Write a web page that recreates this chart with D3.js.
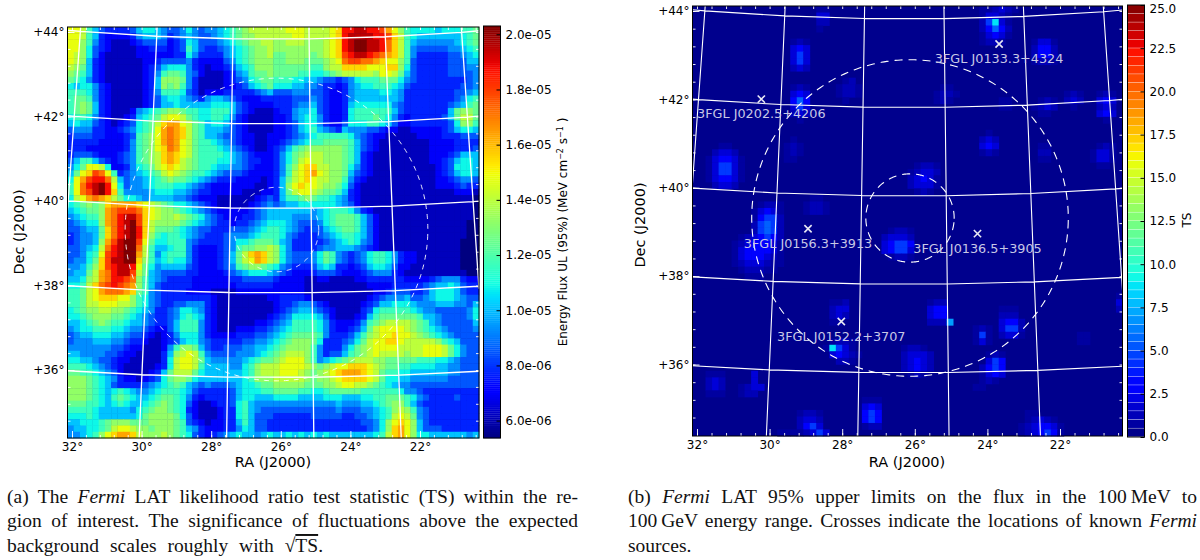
<!doctype html>
<html>
<head>
<meta charset="utf-8">
<title>Fermi LAT maps</title>
<script src="https://d3js.org/d3.v7.min.js"></script>
<style>
  html, body { margin: 0; background: #fff; }
  svg { display: block; font-family: "DejaVu Sans"; }
  .cap { font-family: "Liberation Serif"; font-size: 19.5px; fill: #111; }
</style>
</head>
<body>
<svg id="fig" width="1200" height="560"></svg>
<script>
// flux map, one character per pixel, levels index into fluxLevelKeys (rows top to bottom)
var fluxLevelKeys = "0123456789abcdefghij";
var fluxRows = [
"ccb86433334 67765445754 556789abbbb bbcccbbbbcd hhiihhgeca8 77776777889",
"ccb86322223 56665345654 456789aabbb bbbccbbbbcd hiiiihhgdb8 76666666789",
"cca85321112 34444234764 4456789aabb aabbbaaabcd hijjiihfdb8 65555556789",
"cca74321111 22333234864 33456789aab aaaaaaaabcd hijjiihfdb8 54444455678",
"cba74211111 22222233753 33356789aab 99aaaa9abcd ghiihgfedb8 53333344567",
"cba63211111 12234444532 22245789aaa 99aaa999abc fggffedcca8 43333344466",
"ba963211111 12346777532 12234678aaa 99999988abb ddddcccdda7 43333344455",
"a9863211111 12358998542 11123568 99a 9999887789a bbbbbaccb96 43333344445",
"98753211111 1236aaa9531 11123457899 88877665443 45788899975 43333333345",
"76775321111 1236a9a8531 11122346789 77766554332 35677888764 33333333445",
"88875321111 12358887431 22233333456 44455544322 35666677653 33333334456",
"89985321111 12346776543 56654322233 33344454322 35666666653 33333334578",
"89a96321111 12346676666 67776432222 33345564322 36777777543 33333345689",
"89a96321112 56789aa9887 78886432111 23356674322 37888888643 33333369aa9",
"78875321123 6789bccb987 78875321111 22356775322 37888987532 33333469bb9",
"67664321234 789bdeecb98 67764321111 22346775322 47778876422 33333347aa8",
"45553322345 789cefedb98 66654321111 22346786543 65554432211 22222346776",
"34443322234 89acefedb98 66544322112 22345678888 87543221111 12222333444",
"33333222235 89acefecb98 87654322112 23456788999 98643211111 11122223333",
"33322222235 89acdfecb98 88765432112 34689aaaaaa 98643211111 11122223334",
"34443222345 89abdedcb98 88876543222 3579abbbaaa 98632111111 11122234666",
"46886432345 89abdedba98 88776543322 3579bcbbaaa 98632111111 11122346776",
"579ccb72235 789bcdcba98 87665543222 358acddbbaa 97532111111 11112347776",
"69cdgfc8345 6789bcba988 76544432222 358bcdecbaa 96432111111 11112346776",
"7ceghhfb645 56789a99876 54333222212 369bcdcbbaa 85321111111 11112234554",
"8cfhijhc745 56788877654 32222222112 36acdccbaa9 74211111111 11112223433",
"8cfgijhd855 55677766543 32222211122 369bccba998 63211111111 11111112221",
"7bcefedb977 65666655432 22111111234 36889a98876 53211111111 11111111110",
"789a9adeeee dcba9877654 32111112345 45667777776 54211111111 11111111110",
"67899aefggg fdcbaa98765 43222223456 66666656788 87532111111 11111111110",
"56788aefhii gdcbaaba987 54322233456 66655556789 99864211111 11111111110",
"45677aefhij gdbaaaa9876 54332334567 77654445789 99864211111 11111111100",
"445669dfhij hdb99987654 43334445678 87654344678 99864211111 11111111100",
"345569dfhij hda87887654 33345556788 87543334567 88764211111 11111111100",
"34556aegijj gc977888543 33345778999 86533333456 78754211111 11111111000",
"44567bfhijj fb866788532 22345899aab a7533334556 66543211111 11111111000",
"44578cghijj eb857888532 223469bdedb a7544457985 43457887532 21111111000",
"45579dgiijj da867877532 223469bcedb a7544457985 43457887532 21111111000",
"5568adghiih c9756666432 2234589aa98 75433346763 32346776422 11111111000",
"5669befhiig b9654444332 22234567776 54322234443 22234555321 11111111100",
"667abefhhgf a8654333322 22223344444 32222112211 11223333332 22234555322",
"778bdfghgfe a8643333322 22222333333 22222111111 11112222333 33456676433",
"889bcefffed 98543333222 21111222222 22222111111 11111223444 33467776433",
"889bcdddcca 87543333333 32111111112 23333211111 11112345556 44567776544",
"889bbcccbba 87543344555 32111111111 23345543211 11123466777 65556665546",
"789aabbaa98 76533457765 32111111111 23456654321 11134788888 76554444457",
"7789aaa9987 65433457876 32111111112 34577776421 11236899999 98665444457",
"66789a98876 65433468885 32111111223 45688887532 223589abbbb a9865444446",
"56778887765 54322468885 32111222334 56788887532 23469bccccb a9876544445",
"45667776654 43212357775 32222333445 67899998533 3468abccdcc ba987654444",
"45556665543 32112346775 43333344556 789aaa97333 4579bccddcb bbbba876444",
"55555554432 2111258aa96 43344455667 89aaaa85333 579abccccbb bbcccb97544",
"66555544322 111136abcb8 54444555678 9abbba85344 689abcbbbba bbcccb97544",
"77665443221 111137bccb9 65555567899 abccca85678 9abbbaa9999 98887765444",
"88876543211 111237bccb8 66665578abb bccccba9abc cdddcba9988 77776655444",
"99887654211 112369bbb97 66666678abb bcccba9abcd eeedcb98877 66666655444",
"aaa98765322 123479aa976 66666678aaa bbbbba9aabc ddddcb97766 55555544444",
"aaa98764333 34567898654 54445677899 aaaaa999aab ccbba987655 44444444444",
"aaa98767876 55678887643 33334677788 99998877899 99988888875 54333333333",
"aaa98768987 66789987532 33334677666 77776666777 66677889998 75433334333",
"99988767876 6789a987421 12334786555 55555555556 55566789aa8 64333333333",
"88887666665 789aa987321 11233786544 44444444445 44455678aba 85433333333",
"77787666666 79aaaa97421 11233786444 33333344444 33445678bcb 95433333333",
"6677789aaa9 99aaaa98432 12233686443 33333333333 3334457acdc a6433333333",
"5667789bccb aa9aaa98653 22233576443 33333333333 3333457adec a6444333333",
"55678acdeed baaaba98743 23456766567 66767676766 6666678bdec a7766666656"
];

// TS map is nearly empty: [row, first column, level per pixel], levels index into tsLevels
var tsBackground = 0.3;
var tsLevels = [0.3, 0.7, 1.2, 1.9, 2.8, 4.5, 5.5, 6, 7, 8.7];
var tsPatches = [
[21,4,"11"],[22,3,"2332"],[23,2,"134431"],[24,2,"135531"],[25,2,"135531"],[26,2,"134431"],[27,3,"2332"],
[30,10,"1221"],[31,9,"13431"],[32,9,"14552"],[33,9,"25652"],[34,9,"25652"],[35,7,"1234542"],[36,6,"12344431"],[37,6,"13444431"],[38,6,"13444321"],[39,6,"12333211"],[40,7,"122211"],[41,8,"111"],
[5,15,"121"],[6,15,"343"],[7,15,"353"],[8,15,"353"],[9,15,"232"],
[12,15,"121"],[13,15,"343"],[14,15,"464"],[15,15,"353"],[16,15,"232"],[17,16,"1"],
[0,19,"11"],[1,19,"33"],[2,19,"22"],[3,19,"1"],
[11,23,"12"],[12,22,"1221"],[13,22,"1221"],[14,23,"1"],
[20,15,"1"],[21,14,"121"],[22,14,"121"],[23,14,"11"],
[29,18,"11"],[30,17,"1221"],[31,17,"1221"],
[34,30,"1221"],[35,29,"23332"],[36,29,"34554"],[37,29,"34553"],[38,30,"1221"],
[45,21,"112"],[46,21,"233"],[47,21,"232"],[48,21,"11"],
[51,21,"1221"],[52,20,"19531"],[53,21,"34321"],[54,22,"221"],
[52,32,"1221"],[53,32,"23332"],[54,32,"23432"],[55,32,"23432"],[56,33,"121"],
[56,2,"111"],[57,2,"232"],[58,2,"232"],[59,2,"111"],
[56,9,"3"],[57,9,"3"],[58,7,"1233"],[59,7,"122"],
[62,16,"1221"],[63,16,"2332"],[64,16,"2453"],[65,13,"11112353"],
[60,26,"111"],[61,26,"343"],[62,26,"454"],[63,26,"454"],[64,26,"122"],
[0,44,"112321"],[1,44,"13321"],[2,44,"25931"],[3,44,"24642"],[4,44,"13431"],[5,44,"1221"],
[5,52,"1331"],[6,52,"2442"],[7,52,"2442"],[8,52,"1221"],
[12,38,"11"],[13,37,"1221"],[14,37,"121"],
[14,53,"121"],[15,52,"1232"],[16,53,"11"],
[13,57,"121"],[14,57,"232"],[15,58,"1"],
[13,62,"121"],[14,62,"343"],[15,62,"232"],[16,62,"343"],[17,63,"1"],
[19,45,"1"],[20,44,"232"],[21,44,"343"],[22,44,"121"],
[21,53,"11"],[22,53,"22"],[23,53,"11"],
[21,62,"121"],[22,61,"1331"],[23,61,"1331"],[24,62,"11"],
[24,34,"1221"],[25,33,"12332"],[26,33,"23431"],[27,33,"23331"],[28,34,"121"],
[45,36,"122"],[46,36,"344"],[47,36,"344"],[48,36,"2228"],
[49,43,"121"],[50,43,"151"],[51,43,"131"],
[46,47,"111"],[47,47,"222"],[48,47,"3442"],[49,47,"3552"],[50,47,"2331"],
[53,45,"121"],[54,45,"354"],[55,44,"2454"],[56,44,"1343"],[57,44,"121"],[58,43,"11"],
[62,51,"11"],[63,51,"12321"],[64,50,"1234431"],[65,50,"1234541"],
[44,65,"1"],[45,65,"3"],[46,65,"2"],
[50,59,"11"],[51,59,"11"],
[14,47,"11"],[15,47,"11"]
];

var srcNames = ["3FGL J0202.5+4206", "3FGL J0133.3+4324", "3FGL J0156.3+3913", "3FGL J0136.5+3905", "3FGL J0152.2+3707"];
var srcRA = [30.6, 23.3, 29.05, 24.1, 28.02];
var srcDec = [42.1, 43.4, 39.22, 39.13, 37.14];

var raTicks = [32, 30, 28, 26, 24, 22];
var decTicks = [44, 42, 40, 38, 36];
var fluxRange = [5.37e-6, 2.03e-5];
var fluxTicks = [6e-6, 8e-6, 1e-5, 1.2e-5, 1.4e-5, 1.6e-5, 1.8e-5, 2e-5];
var tsRange = [0, 25];
var tsTicks = [0, 2.5, 5, 7.5, 10, 12.5, 15, 17.5, 20, 22.5, 25];

var roiCenter = [26.07, 39.5];
var roiRadii = [3.58, 1.0];

var svg = d3.select("#fig");

// slight softening, the maps in the paper are jpeg'd
svg.append("defs").append("filter").attr("id", "soft")
  .append("feGaussianBlur").attr("stdDeviation", 0.6);

// jet colormap
var jetR = d3.scaleLinear([0, 0.35, 0.66, 0.89, 1], [0, 0, 1, 1, 0.5]);
var jetG = d3.scaleLinear([0, 0.125, 0.375, 0.64, 0.91, 1], [0, 0, 1, 1, 0, 0]);
var jetB = d3.scaleLinear([0, 0.11, 0.34, 0.65, 1], [0.5, 1, 1, 0, 0]);
function jet(t) {
  return d3.rgb(jetR(t) * 255, jetG(t) * 255, jetB(t) * 255).formatHex();
}

function drawPanel(opt) {
  var g = svg.append("g");
  var x0 = opt.box[0], y0 = opt.box[1], x1 = opt.box[2], y1 = opt.box[3];

  var col = d3.scaleBand(d3.range(66), [x0, x1]);
  var row = d3.scaleBand(d3.range(66), [y0, y1]);
  var color = d3.scaleLinear(opt.range, [0, 1]);

  var heat = g.append("g").attr("filter", "url(#soft)");
  heat.append("rect").attr("x", x0).attr("y", y0).attr("width", x1 - x0).attr("height", y1 - y0)
    .attr("fill", jet(color(opt.base || opt.range[0])));
  heat.selectAll("rect.cell").data(opt.cells).join("rect")
    .attr("class", "cell")
    .attr("x", d => col(d.c)).attr("y", d => row(d.r))
    .attr("width", col.bandwidth() + 0.4).attr("height", row.bandwidth() + 0.4)
    .attr("fill", d => jet(color(d.v)));

  // sky grid and ROI circles
  var proj = d3.geoGnomonic().reflectX(true)
    .rotate([-roiCenter[0], -roiCenter[1]])
    .scale(opt.scale).translate(opt.center)
    .clipExtent([[x0, y0], [x1, y1]]).precision(0.3);
  var path = d3.geoPath(proj);
  var grat = d3.geoGraticule().extent([[15, 34], [37.5, 46]]).step([2.5, 2]);
  g.append("path").datum(grat()).attr("d", path)
    .attr("fill", "none").attr("stroke", "#fff").attr("stroke-width", opt.gridWidth);
  roiRadii.forEach(function(r) {
    g.append("path").datum(d3.geoCircle().center(roiCenter).radius(r).precision(1)())
      .attr("d", path).attr("fill", "none").attr("stroke", "#fff")
      .attr("stroke-width", opt.circleWidth).attr("stroke-dasharray", opt.circleDash);
  });

  // ticks
  var ra = d3.scaleLinear([32, 22], opt.raPx);
  var dec = d3.scaleLinear([44, 36], opt.decPx);
  var raMinor = d3.range(32.4, 19.9, -0.4).filter(d => ra(d) > x0 + 1 && ra(d) < x1 - 1);
  var decMinor = d3.range(34, 44.8, 0.4).filter(d => dec(d) > y0 + 1 && dec(d) < y1 - 1);

  function tickAxis(axis, tf) {
    var a = g.append("g").attr("transform", tf).call(axis);
    a.select(".domain").remove();
    a.selectAll("line").attr("stroke", "#fff").attr("stroke-width", 0.9);
    a.selectAll("text").attr("font-family", "DejaVu Sans").attr("font-size", 12).attr("fill", "#000");
    return a;
  }
  var blank = () => "";
  tickAxis(d3.axisBottom(ra).tickValues(raMinor).tickSize(-3).tickFormat(blank), "translate(0," + y1 + ")");
  tickAxis(d3.axisTop(ra).tickValues(raMinor).tickSize(-3).tickFormat(blank), "translate(0," + y0 + ")");
  tickAxis(d3.axisLeft(dec).tickValues(decMinor).tickSize(-3).tickFormat(blank), "translate(" + x0 + ",0)");
  tickAxis(d3.axisRight(dec).tickValues(decMinor).tickSize(-3).tickFormat(blank), "translate(" + x1 + ",0)");
  tickAxis(d3.axisBottom(ra).tickValues(raTicks).tickSize(-7).tickPadding(4).tickFormat(d => d + "°"), "translate(0," + y1 + ")");
  tickAxis(d3.axisLeft(dec).tickValues(decTicks).tickSize(-7).tickPadding(3).tickFormat(d => "+" + d + "°"), "translate(" + x0 + ",0)");

  g.append("rect").attr("x", x0).attr("y", y0).attr("width", x1 - x0).attr("height", y1 - y0)
    .attr("fill", "none").attr("stroke", "#000").attr("stroke-width", 1);

  g.append("text").attr("x", opt.raLabel[0]).attr("y", opt.raLabel[1]).attr("text-anchor", "middle")
    .attr("font-size", 14.5).text("RA (J2000)");
  g.append("text").attr("transform", "translate(" + opt.decLabel[0] + "," + opt.decLabel[1] + ") rotate(-90)")
    .attr("text-anchor", "middle").attr("font-size", 14.5).text("Dec (J2000)");

  // colorbar
  var cb = opt.bar;
  var barY = d3.scaleLinear(opt.range, [cb[3], cb[1]]);
  var steps = d3.range(opt.barSteps);
  var stepH = (cb[3] - cb[1]) / opt.barSteps;
  g.selectAll("rect.strip").data(steps).join("rect")
    .attr("class", "strip")
    .attr("x", cb[0]).attr("width", cb[2] - cb[0])
    .attr("y", d => cb[3] - (d + 1) * stepH)
    .attr("height", stepH + opt.barOverlap)
    .attr("fill", d => jet((d + 0.5) / opt.barSteps));
  g.append("rect").attr("x", cb[0]).attr("y", cb[1]).attr("width", cb[2] - cb[0]).attr("height", cb[3] - cb[1])
    .attr("fill", "none").attr("stroke", "#000").attr("stroke-width", 1);
  var barAxis = g.append("g").attr("transform", "translate(" + cb[2] + ",0)")
    .call(d3.axisRight(barY).tickValues(opt.barTicks).tickSize(-4).tickPadding(5).tickFormat(opt.barFormat));
  barAxis.select(".domain").remove();
  barAxis.selectAll("line").attr("stroke", "#000");
  barAxis.selectAll("text").attr("font-family", "DejaVu Sans").attr("font-size", 12).attr("fill", "#000");
  // top label would touch the page edge
  barAxis.selectAll("text").filter(d => barY(d) < 8).attr("dy", "0.6em");

  return proj;
}

// unpack the map arrays into cell objects
var fluxCells = [];
fluxRows.forEach(function(line, r) {
  line.replace(/\s/g, "").split("").forEach(function(ch, c) {
    var level = fluxLevelKeys.indexOf(ch);
    fluxCells.push({r: r, c: c, v: fluxRange[0] + level / 19 * (fluxRange[1] - fluxRange[0])});
  });
});
var tsCells = [];
tsPatches.forEach(function(p) {
  p[2].split("").forEach(function(ch, i) {
    tsCells.push({r: p[0], c: p[1] + i, v: tsLevels[+ch]});
  });
});

drawPanel({
  box: [67.5, 27, 479, 438], center: [276.5, 229.5], scale: 2419,
  cells: fluxCells, range: fluxRange,
  raPx: [72, 420], decPx: [32, 370],
  gridWidth: 1.3, circleWidth: 0.9, circleDash: "5,5",
  raLabel: [273, 467], decLabel: [24, 232],
  bar: [483.5, 26, 500.5, 438], barSteps: 200, barOverlap: 0.3, barTicks: fluxTicks,
  barFormat: d => d3.format(".1e")(d).replace(/e-(\d)$/, "e-0$1")
});

var projB = drawPanel({
  box: [692.5, 6, 1122.5, 436], center: [910, 218], scale: 2530,
  cells: tsCells, range: tsRange, base: tsBackground,
  raPx: [697, 1060], decPx: [11, 364.5],
  gridWidth: 1.1, circleWidth: 1.1, circleDash: "8,6",
  raLabel: [907, 467], decLabel: [645, 225],
  bar: [1127.5, 5, 1144.5, 437], barSteps: 50, barOverlap: -0.4, barTicks: tsTicks,
  barFormat: d3.format(".1f")
});

// colorbar titles
var fluxTitle = svg.append("text").attr("transform", "translate(567,232) rotate(-90)")
  .attr("text-anchor", "middle").attr("font-size", 12);
fluxTitle.append("tspan").text("Energy Flux UL (95%) (MeV cm");
fluxTitle.append("tspan").attr("dy", -4).attr("font-size", 8).text("−2");
fluxTitle.append("tspan").attr("dy", 4).text(" s");
fluxTitle.append("tspan").attr("dy", -4).attr("font-size", 8).text("−1");
fluxTitle.append("tspan").attr("dy", 4).text(" )");
svg.append("text").attr("transform", "translate(1191,220) rotate(-90)")
  .attr("text-anchor", "middle").attr("font-size", 12).text("TS");

// known sources on panel b
var src = svg.append("g").selectAll("g").data(srcNames).join("g")
  .attr("transform", (d, i) => "translate(" + projB([srcRA[i], srcDec[i]]) + ")");
src.append("path").attr("d", d3.symbol(d3.symbolTimes, 36)())
  .attr("fill", "none").attr("stroke", "#e8e8f4").attr("stroke-width", 1.6);
src.append("text").attr("y", 19).attr("text-anchor", "middle")
  .attr("font-size", 12.8).attr("fill", "#c8c8e6").text(d => d);

// caption text, justified by stretching the word gaps only
function capLine(x, y, w, parts) {
  var t = svg.append("text").attr("class", "cap").attr("x", x).attr("y", y);
  parts.forEach(function(p) {
    var s = t.append("tspan").text(p[0]);
    if (p[1] == "i") s.attr("font-style", "italic");
    if (p[1] == "o") s.style("text-decoration", "overline");
  });
  if (w) {
    var gaps = t.text().split(" ").length - 1;
    var spare = w - t.node().getComputedTextLength();
    t.style("word-spacing", (spare / gaps) + "px");
  }
}
capLine(7, 503, 571, [["(a) The "], ["Fermi", "i"], [" LAT likelihood ratio test statistic (TS) within the re-"]]);
capLine(7, 527, 571, [["gion of interest. The significance of fluctuations above the expected"]]);
capLine(7, 552, 316, [["background scales roughly with √"], ["TS", "o"], ["."]]);
capLine(628, 503, 569, [["(b) "], ["Fermi", "i"], [" LAT 95% upper limits on the flux in the 100\u2009MeV to"]]);
capLine(628, 527, 569, [["100\u2009GeV energy range. Crosses indicate the locations of known "], ["Fermi", "i"]]);
capLine(628, 552, 0, [["sources."]]);
</script>
</body>
</html>
